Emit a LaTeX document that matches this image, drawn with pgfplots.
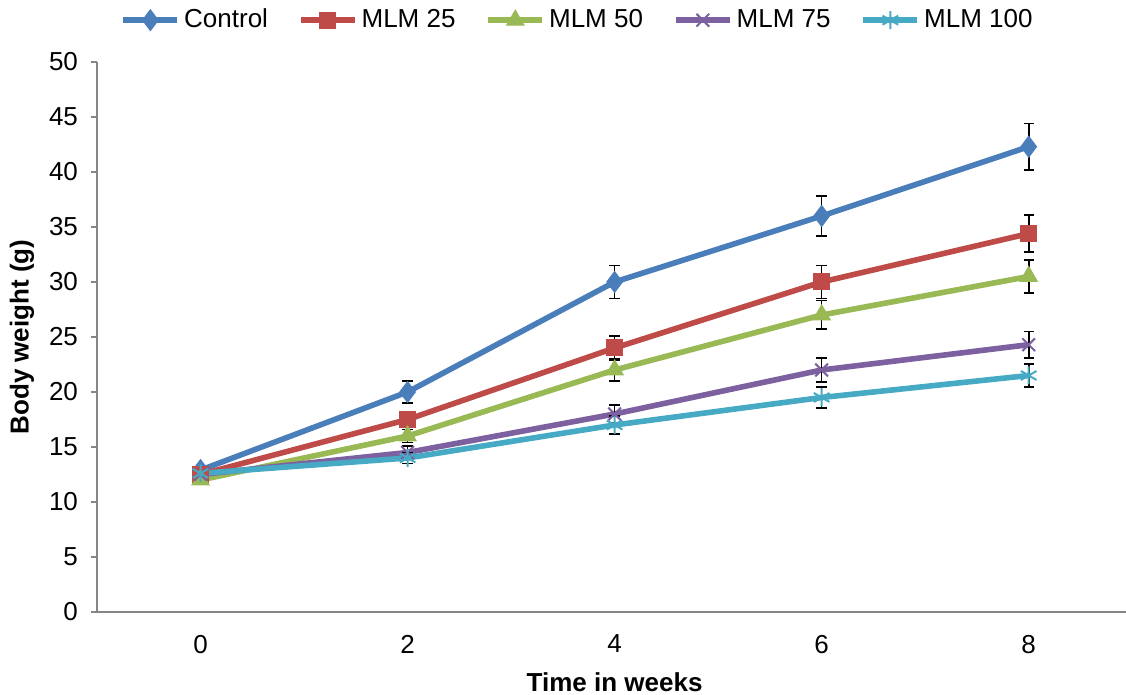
\documentclass[border=0pt]{standalone}
\usepackage{fontspec}
\setmainfont{Liberation Sans}
\usepackage{pgfplots}
\pgfplotsset{compat=1.18}
\definecolor{cC}{HTML}{4A7EBB}
\definecolor{c25}{HTML}{BE4B48}
\definecolor{c50}{HTML}{98B954}
\definecolor{c75}{HTML}{7D60A0}
\definecolor{c100}{HTML}{46AAC5}
\definecolor{axgray}{HTML}{868686}
\begin{document}
\fontsize{13}{15}\selectfont
\begin{tikzpicture}
\begin{axis}[
  name=ax,
  scale only axis,
  width=514.5pt, height=275pt,
  xmin=-0.5, xmax=4.47,
  ymin=0, ymax=50,
  ytick={0,5,...,50},
  xtick={0,1,2,3,4},
  xticklabels={0,2,4,6,8},
  /pgf/number format/assume math mode=true,
  axis x line*=bottom, axis y line*=left,
  axis line style={draw=axgray, line width=1pt, -},
  tick style={draw=axgray, line width=0.8pt},
  tick align=outside,
  major tick length=3pt,
  x tick style={draw=none},
  extra x ticks={-0.5,0.5,1.5,2.5,3.5},
  extra x tick labels={},
  extra x tick style={major tick length=4pt, tick style={draw=axgray, line width=0.8pt}},
  font=\fontsize{13}{15}\selectfont,
  xticklabel style={yshift=-4pt},
  yticklabel style={xshift=-2pt},
  xlabel={\textbf{Time in weeks}},
  ylabel={\textbf{Body weight (g)}},
  xlabel style={at={(axis description cs:0.503,-0.127)}, anchor=center},
  ylabel style={at={(axis description cs:-0.0729,0.5)}, anchor=center},
  legend style={at={(axis description cs:0.468,1.076)}, anchor=center, draw=none, fill=none,
    legend columns=-1, /tikz/every even column/.append style={column sep=13pt},
    font=\fontsize{13}{15}\selectfont, inner sep=0pt},
  legend image code/.code={
    \draw[mark repeat=2,mark phase=2,#1] plot coordinates {(0pt,0pt) (13.5pt,0pt) (27pt,0pt)};
  },
  every axis plot/.append style={line width=2.8pt},
  error bars/y dir=both, error bars/y explicit,
  error bars/error bar style={black, line width=0.8pt, solid},
  error bars/error mark options={black, rotate=90, mark size=2.6pt, line width=0.8pt},
  clip=false,
]
\addplot[cC, mark=diamond*, mark size=5.2pt, mark options={solid, fill=cC, line width=0.5pt}]
  coordinates {(0,12.9) +- (0,0.3) (1,20) +- (0,1.0) (2,30) +- (0,1.5) (3,36) +- (0,1.8) (4,42.3) +- (0,2.1)};
\addlegendentry{Control}
\addplot[c25, mark=square*, mark size=4pt, mark options={solid, fill=c25, line width=0.5pt}]
  coordinates {(0,12.5) +- (0,0.3) (1,17.5) +- (0,0.6) (2,24) +- (0,1.1) (3,30) +- (0,1.5) (4,34.4) +- (0,1.7)};
\addlegendentry{MLM 25}
\addplot[c50, mark=triangle*, mark size=5pt, mark options={solid, fill=c50, line width=0.5pt}]
  coordinates {(0,12) +- (0,0.3) (1,16) +- (0,0.6) (2,22) +- (0,1.0) (3,27) +- (0,1.3) (4,30.5) +- (0,1.5)};
\addlegendentry{MLM 50}
\addplot[c75, mark=x, mark size=4.5pt, mark options={solid, line width=1pt}]
  coordinates {(0,12.5) +- (0,0.3) (1,14.5) +- (0,0.6) (2,18) +- (0,0.8) (3,22) +- (0,1.1) (4,24.3) +- (0,1.2)};
\addlegendentry{MLM 75}
\addplot[c100, mark=asterisk, mark size=4.5pt, mark options={solid, line width=1pt}]
  coordinates {(0,12.6) +- (0,0.3) (1,14) +- (0,0.5) (2,17) +- (0,0.8) (3,19.5) +- (0,0.95) (4,21.5) +- (0,1.05)};
\addlegendentry{MLM 100}
\end{axis}
\pgfresetboundingbox
\path ([shift={(-48.5pt,-41.5pt)}]ax.south west) rectangle ([shift={(0pt,31pt)}]ax.north east);
\end{tikzpicture}
\end{document}
